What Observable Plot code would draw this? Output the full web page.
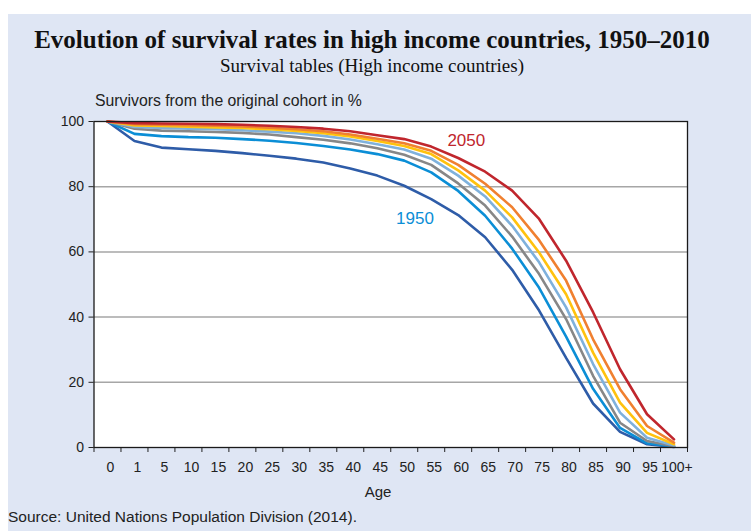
<!DOCTYPE html>
<html>
<head>
<meta charset="utf-8">
<script src="https://cdn.jsdelivr.net/npm/d3@7"></script>
<script src="https://cdn.jsdelivr.net/npm/@observablehq/plot@0.6"></script>
<style>
  html, body { margin: 0; padding: 0; background: #ffffff; }
  #panel { position: absolute; left: 8px; top: 14px; width: 743px; height: 517px; background: #dfe6f4; overflow: hidden; }
  .t { position: absolute; white-space: nowrap; color: #111; }
  #title { left: 0; width: 728px; top: 11px; text-align: center; font: bold 25px/30px "Liberation Serif", "Times New Roman", serif; }
  #subtitle { left: 0; width: 728px; top: 41px; text-align: center; font: 19px/22px "Liberation Serif", "Times New Roman", serif; }
  #ylabel { left: 87px; top: 78px; font: 15.8px/18px "Liberation Sans", Arial, sans-serif; color: #222; }
  #xlabel { left: 345px; width: 50px; text-align: center; top: 469px; font: 15px/18px "Liberation Sans", Arial, sans-serif; color: #222; }
  #source { left: 0px; top: 494px; font: 15.5px/18px "Liberation Sans", Arial, sans-serif; color: #222; }
  #chart { position: absolute; left: 0; top: 94px; }
  #chart svg { overflow: visible; background: none; }
</style>
</head>
<body>
<div id="panel">
  <div class="t" id="title">Evolution of survival rates in high income countries, 1950–2010</div>
  <div class="t" id="subtitle">Survival tables (High income countries)</div>
  <div class="t" id="ylabel">Survivors from the original cohort in %</div>
  <div id="chart"></div>
  <div class="t" id="xlabel">Age</div>
  <div class="t" id="source">Source: United Nations Population Division (2014).</div>
</div>
<script>
// Age groups (x categories)
const ages = ["0","1","5","10","15","20","25","30","35","40","45","50","55","60","65","70","75","80","85","90","95","100+"];

// Survivors (%) by series
const s1950 = [100, 94.0, 92.0, 91.5, 91.0, 90.3, 89.5, 88.6, 87.4, 85.6, 83.4, 80.3, 76.2, 71.3, 64.5, 54.5, 42.0, 27.5, 13.5, 4.8, 1.0, 0.2];
const s1970 = [100, 96.2, 95.5, 95.2, 95.0, 94.6, 94.1, 93.4, 92.5, 91.4, 90.0, 88.0, 84.4, 78.7, 71.1, 61.0, 49.0, 34.0, 18.0, 6.0, 1.3, 0.3];
const s1990 = [100, 97.8, 97.2, 97.0, 96.8, 96.5, 96.0, 95.2, 94.4, 93.3, 91.8, 89.8, 86.7, 81.0, 74.2, 64.7, 53.2, 39.4, 22.0, 7.6, 2.0, 0.4];
const s2010 = [100, 98.3, 98.0, 97.8, 97.6, 97.3, 96.9, 96.4, 95.6, 94.5, 93.0, 91.4, 88.6, 83.4, 77.0, 68.0, 56.8, 43.0, 25.6, 10.7, 3.0, 0.6];
const s2020 = [100, 98.8, 98.6, 98.4, 98.2, 98.0, 97.6, 97.1, 96.4, 95.4, 94.0, 92.5, 90.0, 85.0, 78.8, 70.6, 59.8, 47.0, 29.1, 13.8, 4.5, 1.0];
const s2030 = [100, 99.2, 99.0, 98.9, 98.7, 98.5, 98.1, 97.6, 97.0, 96.0, 94.7, 93.3, 91.0, 86.7, 80.9, 73.7, 63.6, 51.2, 33.2, 17.9, 6.6, 1.5];
const s2050 = [100, 99.5, 99.4, 99.3, 99.2, 99.0, 98.7, 98.3, 97.8, 97.0, 95.8, 94.6, 92.3, 88.8, 84.6, 78.8, 70.1, 57.3, 41.5, 24.0, 10.2, 2.5];

const seriesNames = ["1950", "1970", "1990", "2010", "2020", "2030", "2050"];
const seriesValues = [s1950, s1970, s1990, s2010, s2020, s2030, s2050];
const seriesColors = ["#2e5ca8", "#0b8ed6", "#878787", "#7fb1dc", "#ffc20e", "#f08030", "#c0262d"];

const yTicks = [0, 20, 40, 60, 80, 100];

// Direct labels
const labelText = ["2050", "1950"];
const labelAge = [13.3, 11.4];      // position along age index
const labelValue = [94.2, 70.2];
const labelColor = ["#c0262d", "#0b8ed6"];

const rows = [];
seriesNames.forEach((name, k) => {
  seriesValues[k].forEach((v, i) => rows.push({series: name, i, age: ages[i], value: v}));
});
const labels = labelText.map((t, k) => ({text: t, i: labelAge[k], value: labelValue[k], color: labelColor[k]}));

const idx = d3.range(ages.length);
const bounds = d3.range(ages.length + 1).map(i => i - 0.5);

const chart = Plot.plot({
  width: 743,
  height: 390,
  marginLeft: 85.5,
  marginRight: 64,
  marginTop: 13,
  marginBottom: 51,
  style: {background: "none", fontFamily: "'Liberation Sans', Arial, sans-serif", fontSize: "14px", color: "#222"},
  x: {type: "linear", domain: [-0.5, ages.length - 0.5], axis: null, label: null},
  y: {domain: [0, 100], axis: null, label: null},
  color: {domain: seriesNames, range: seriesColors},
  marks: [
    Plot.frame({fill: "white", stroke: null}),
    Plot.gridY(yTicks.filter(t => t > 0 && t < 100), {stroke: "#a6a6a6", strokeOpacity: 1, strokeWidth: 1.5}),
    Plot.axisY({ticks: yTicks, tickSize: 5, tickPadding: 5, stroke: "#222", fill: "#222", fontSize: 14, label: null}),
    Plot.axisX({ticks: idx, tickFormat: i => ages[i], tickSize: 0, tickPadding: 15, dx: 3, fill: "#222", fontSize: 14, label: null}),
    Plot.axisX({ticks: bounds, tickFormat: () => "", tickSize: 5, stroke: "#222", label: null}),
    Plot.line(rows, {x: "i", y: "value", z: "series", stroke: "series", strokeWidth: 2.6, strokeLinejoin: "miter", curve: "linear"}),
    Plot.text(labels, {x: "i", y: "value", text: "text", fill: "color", fontSize: 17}),
    Plot.frame({stroke: "#1a1a1a", strokeWidth: 1.3})
  ]
});
document.getElementById("chart").appendChild(chart);
</script>
</body>
</html>
